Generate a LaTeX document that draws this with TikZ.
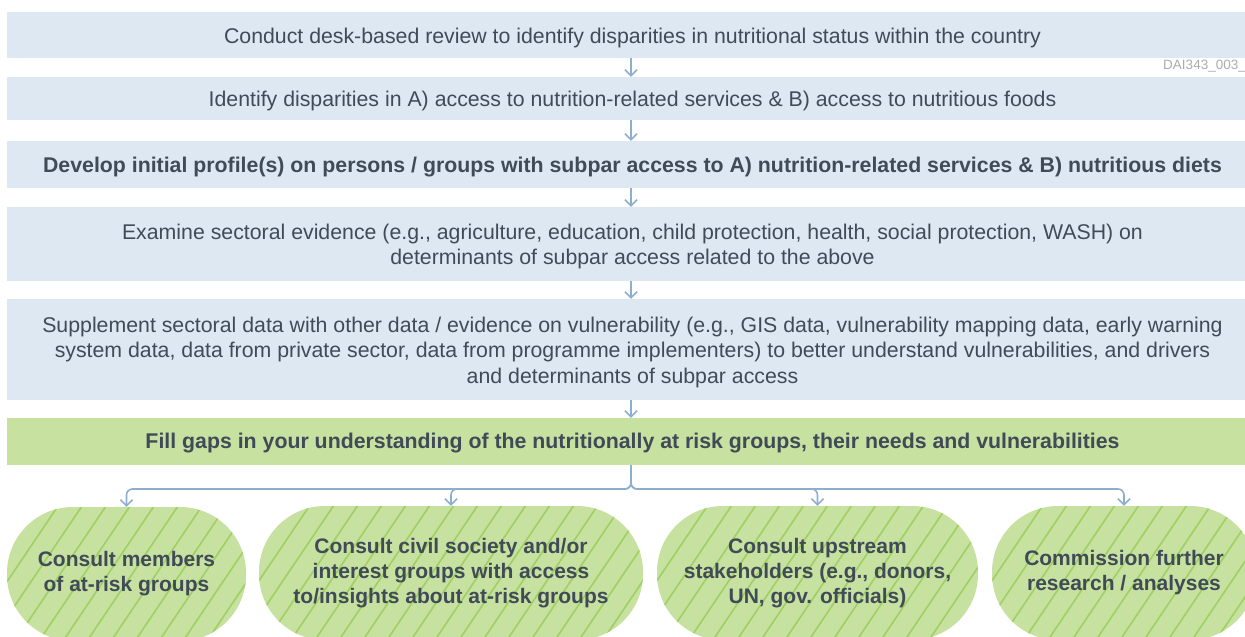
\documentclass[tikz,border=0pt]{standalone}
\usepackage{fontspec}
\setmainfont{Liberation Sans}
\usetikzlibrary{arrows.meta}
\definecolor{boxblue}{HTML}{DDE8F2}
\definecolor{boxgreen}{HTML}{C6E1A0}
\definecolor{hatchgreen}{HTML}{A0D062}
\definecolor{txt}{HTML}{404B57}
\definecolor{arrcol}{HTML}{8EAECE}
\definecolor{wmark}{HTML}{ABABAB}
\tikzset{
  stepbox/.style={fill=boxblue, draw=none, minimum width=1251pt, inner sep=0pt},
  greenbox/.style={stepbox, fill=boxgreen},
  boxtext/.style={inner sep=0pt, text=txt, font=\fontsize{21.3}{25.5}\selectfont, align=center},
  boldtext/.style={boxtext, font=\fontsize{21.3}{25.5}\selectfont\bfseries},
  pill/.style={fill=boxgreen, draw=none, rounded corners=66pt, minimum height=134pt, inner sep=0pt, text=txt, font=\fontsize{21}{25}\selectfont\bfseries, align=center,
    path picture={\foreach \k in {0,...,30}{\draw[hatchgreen, line width=1.6pt] ([xshift=\k*24pt-160pt]path picture bounding box.south west) -- ++(120pt,178pt);}}},
  arr/.style={draw=arrcol, line width=1.6pt, -{Straight Barb[length=6pt,width=12pt,line width=1.6pt]}}
}
\begin{document}
\begin{tikzpicture}[x=1pt,y=-1pt]
\useasboundingbox (0,0) rectangle (1245,637);
\clip (0,0) rectangle (1245,637);
\node[stepbox, minimum height=46pt] (b1) at (632.5,35) {};
\node[stepbox, minimum height=43pt] (b2) at (632.5,98.5) {};
\node[stepbox, minimum height=47pt] (b3) at (632.5,164.5) {};
\node[stepbox, minimum height=74pt] (b4) at (632.5,244) {};
\node[stepbox, minimum height=101pt] (b5) at (632.5,349.5) {};
\node[greenbox, minimum height=47pt] (b6) at (632.5,441.5) {};

\node[boxtext] (t1) at ([yshift=-2.5pt]b1.center) {Conduct desk-based review to identify disparities in nutritional status within the country};
\node[boxtext] (t2) at ([yshift=-2.5pt]b2.center) {Identify disparities in A) access to nutrition-related services \& B) access to nutritious foods};
\node[boldtext] (t3) at ([yshift=-2.5pt]b3.center) {Develop initial profile(s) on persons / groups with subpar access to A) nutrition-related services \& B) nutritious diets};
\node[boxtext] (t4) at ([yshift=-2.5pt]b4.center) {Examine sectoral evidence (e.g., agriculture, education, child protection, health, social protection, WASH) on\\determinants of subpar access related to the above};
\node[boxtext] (t5) at ([yshift=-2.5pt]b5.center) {Supplement sectoral data with other data / evidence on vulnerability (e.g., GIS data, vulnerability mapping data, early warning\\system data, data from private sector, data from programme implementers) to better understand vulnerabilities, and drivers\\and determinants of subpar access};
\node[boldtext] (t6) at ([yshift=-2pt]b6.center) {Fill gaps in your understanding of the nutritionally at risk groups, their needs and vulnerabilities};
\node[text=wmark, font=\fontsize{13.5}{15}\selectfont, anchor=east, inner sep=0pt] (wm) at (1246,66.5) {DAI343\_003\_};

\node[pill, minimum width=239pt] (e1) at (126.5,574) {Consult members\\of at-risk groups};
\node[pill, minimum width=384pt] (e2) at (451,573) {Consult civil society and/or\\interest groups with access\\to/insights about at-risk groups};
\node[pill, minimum width=321pt] (e3) at (817.5,573) {Consult upstream\\stakeholders (e.g., donors,\\UN, gov. officials)};
\node[pill, minimum width=264pt] (e4) at (1124,573) {Commission further\\research / analyses};

\draw[arr] (b1.south -| 631,0) -- (b2.north -| 631,0);
\draw[arr] (b2.south -| 631,0) -- (b3.north -| 631,0);
\draw[arr] (b3.south -| 631,0) -- (b4.north -| 631,0);
\draw[arr] (b4.south -| 631,0) -- (b5.north -| 631,0);
\draw[arr] (b5.south -| 631,0) -- (b6.north -| 631,0);

\coordinate (br) at (631,489);
\foreach \e in {e1,e2,e3,e4}{
  \draw[arr, rounded corners=6pt] (b6.south -| br) -- (br) -| (\e.north);
}
\end{tikzpicture}
\end{document}
